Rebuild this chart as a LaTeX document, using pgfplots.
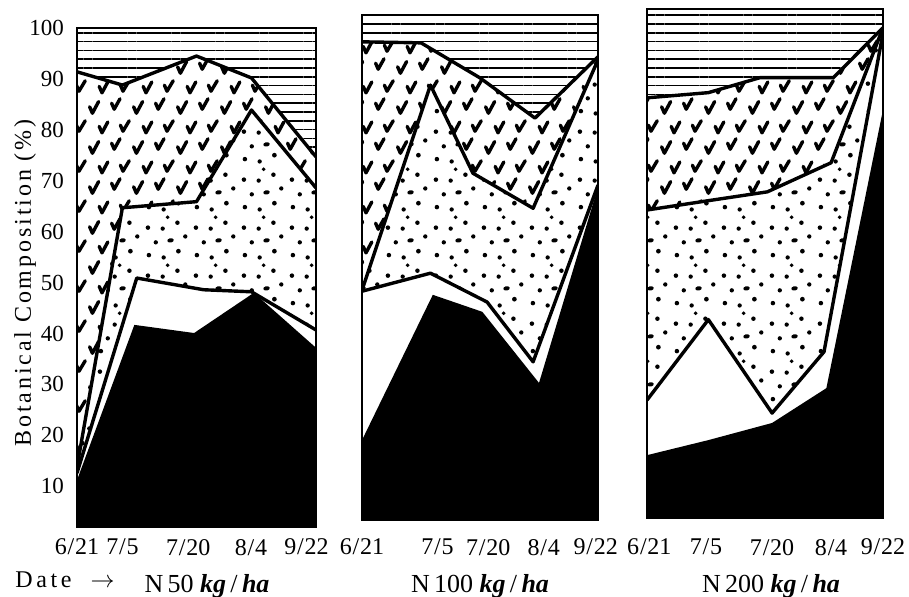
\documentclass[border=0pt]{standalone}
\usepackage{fontspec}
\setmainfont{Liberation Serif}
\usepackage{pgfplots}
\pgfplotsset{compat=1.18}
\usetikzlibrary{patterns,patterns.meta}

% check-mark ("v") pattern
\pgfdeclarepatternformonly{vchecks}{\pgfqpoint{-1pt}{-1pt}}{\pgfqpoint{23pt}{21pt}}{\pgfqpoint{22pt}{20pt}}{%
  \pgfsetlinewidth{1.7pt}\pgfsetroundcap\pgfsetroundjoin
  \pgfpathmoveto{\pgfqpoint{0.8pt}{4.6pt}}\pgfpathlineto{\pgfqpoint{2.2pt}{1.4pt}}\pgfpathlineto{\pgfqpoint{5.3pt}{7.2pt}}
  \pgfpathmoveto{\pgfqpoint{11.8pt}{6.4pt}}\pgfpathlineto{\pgfqpoint{13.1pt}{3.4pt}}\pgfpathlineto{\pgfqpoint{16.0pt}{8.6pt}}
  \pgfpathmoveto{\pgfqpoint{5.6pt}{14.8pt}}\pgfpathlineto{\pgfqpoint{7.0pt}{11.6pt}}\pgfpathlineto{\pgfqpoint{9.9pt}{17.0pt}}
  \pgfpathmoveto{\pgfqpoint{16.2pt}{15.4pt}}\pgfpathlineto{\pgfqpoint{17.5pt}{12.4pt}}\pgfpathlineto{\pgfqpoint{20.6pt}{17.6pt}}
  \pgfusepath{stroke}}

% irregular dots pattern
\pgfdeclarepatternformonly{dotsr}{\pgfqpoint{0pt}{0pt}}{\pgfqpoint{24pt}{24pt}}{\pgfqpoint{24pt}{24pt}}{%
  \pgfpathcircle{\pgfqpoint{2.5pt}{3pt}}{1.15pt}
  \pgfpathcircle{\pgfqpoint{10pt}{1.8pt}}{1.1pt}
  \pgfpathcircle{\pgfqpoint{17.5pt}{5pt}}{1.2pt}
  \pgfpathcircle{\pgfqpoint{6pt}{9.5pt}}{1.1pt}
  \pgfpathellipse{\pgfqpoint{13.5pt}{10.5pt}}{\pgfqpoint{1.6pt}{0.4pt}}{\pgfqpoint{-0.4pt}{1.05pt}}
  \pgfpathcircle{\pgfqpoint{21pt}{12.5pt}}{1.1pt}
  \pgfpathcircle{\pgfqpoint{2pt}{17pt}}{1.15pt}
  \pgfpathcircle{\pgfqpoint{9.5pt}{16.5pt}}{1.1pt}
  \pgfpathcircle{\pgfqpoint{17pt}{19.5pt}}{1.15pt}
  \pgfpathcircle{\pgfqpoint{12pt}{22.3pt}}{1.0pt}
  \pgfusepath{fill}}

\newcommand{\dsl}{\kern0.4pt/\kern0.4pt}

\pgfplotsset{
  base/.style={
    scale only axis, xmin=0, xmax=1, ymin=2, ymax=100,
    anchor=south west, axis on top,
    axis line style={line width=1pt},
    major tick length=0pt,
    ytick=\empty,
    xticklabels={6\dsl 21,7\dsl 5,7\dsl 20,8\dsl 4,9\dsl 22},
    xticklabel style={font=\fontsize{12}{14}\selectfont},
    /pgf/number format/assume math mode=true,
  },
  hl/.style={draw=none, fill=white, postaction={pattern={Lines[angle=0,distance=4.4pt,line width=0.8pt]}}},
  ck/.style={draw=none, fill=white, postaction={pattern=vchecks}},
  dt/.style={draw=none, fill=white, postaction={pattern=dotsr}},
  wh/.style={draw=none, fill=white},
  bk/.style={draw=none, fill=black},
  bd/.style={line width=1.7pt, black, line join=round},
}

\begin{document}
\begin{tikzpicture}
\useasboundingbox (0,0) rectangle (454.5pt,-298pt);

% ---------- N 50 ----------
\begin{axis}[base, at={(38.5pt,-263.5pt)}, width=119.5pt, height=249.5pt,
  ytick={10,20,...,100},
  yticklabel style={font=\fontsize{11.5}{13}\selectfont, xshift=-3pt},
  xtick={0,0.19,0.465,0.728,0.96},
  xticklabel style={yshift=-2.5pt}]
\addplot[hl] coordinates {(0,100) (1,100)} \closedcycle;
\addplot[ck] coordinates {(0,91.4) (0.19,88.8) (0.50,94.5) (0.73,90.2) (1,74.7)} \closedcycle;
\addplot[dt] coordinates {(0,13.8) (0.19,64.7) (0.50,65.9) (0.73,83.9) (1,68.6)} \closedcycle;
\addplot[wh] coordinates {(0,12.6) (0.25,50.9) (0.53,48.6) (0.73,48.2) (1,40.7)} \closedcycle;
\addplot[bk] coordinates {(0,11.2) (0.24,41.7) (0.49,40.1) (0.74,48.0) (1,37.2)} \closedcycle;
\addplot[bd] coordinates {(0,91.4) (0.19,88.8) (0.50,94.5) (0.73,90.2) (1,74.7)};
\addplot[bd] coordinates {(0,13.8) (0.19,64.7) (0.50,65.9) (0.73,83.9) (1,68.6)};
\addplot[bd] coordinates {(0,12.6) (0.25,50.9) (0.53,48.6) (0.73,48.2) (1,40.7)};
\end{axis}

% ---------- N 100 ----------
\begin{axis}[base, at={(181pt,-260pt)}, width=118pt, height=252.5pt,
  xtick={0,0.32,0.535,0.77,0.99},
  xticklabel style={yshift=-6pt}]
\addplot[hl] coordinates {(0,100) (1,100)} \closedcycle;
\addplot[ck] coordinates {(0,94.8) (0.25,94.6) (0.50,87.8) (0.733,80.0) (1,91.9)} \closedcycle;
\addplot[dt] coordinates {(0,46.6) (0.29,86.4) (0.47,69.3) (0.725,62.5) (1,91.3)} \closedcycle;
\addplot[wh] coordinates {(0,46.4) (0.29,49.9) (0.53,44.3) (0.725,32.7) (1,67.0)} \closedcycle;
\addplot[bk] coordinates {(0,17.5) (0.30,45.7) (0.51,42.4) (0.75,28.6) (1,66.6)} \closedcycle;
\addplot[bd] coordinates {(0,94.8) (0.25,94.6) (0.50,87.8) (0.733,80.0) (1,91.9)};
\addplot[bd] coordinates {(0,46.6) (0.29,86.4) (0.47,69.3) (0.725,62.5) (1,91.3)};
\addplot[bd] coordinates {(0,46.4) (0.29,49.9) (0.53,44.3) (0.725,32.7) (1,67.0)};
\end{axis}

% ---------- N 200 ----------
\begin{axis}[base, at={(323.5pt,-259pt)}, width=118pt, height=254.5pt,
  xtick={0.01,0.25,0.53,0.78,1},
  xticklabel style={yshift=-7pt}]
\addplot[hl] coordinates {(0,100) (1,100)} \closedcycle;
\addplot[ck] coordinates {(0,82.9) (0.26,83.9) (0.48,86.8) (0.79,86.8) (1,96.4)} \closedcycle;
\addplot[dt] coordinates {(0,61.3) (0.26,63.1) (0.51,64.8) (0.78,70.4) (1,96.4)} \closedcycle;
\addplot[wh] coordinates {(0,24.7) (0.26,40.2) (0.53,22.2) (0.75,34.0) (1,95.4)} \closedcycle;
\addplot[bk] coordinates {(0,14.1) (0.26,17.0) (0.53,20.3) (0.76,27.0) (1,80.6)} \closedcycle;
\addplot[bd] coordinates {(0,82.9) (0.26,83.9) (0.48,86.8) (0.79,86.8) (1,96.4)};
\addplot[bd] coordinates {(0,61.3) (0.26,63.1) (0.51,64.8) (0.78,70.4) (1,96.4)};
\addplot[bd] coordinates {(0,24.7) (0.26,40.2) (0.53,22.2) (0.75,34.0) (1,95.4)};
\end{axis}

% ---------- labels ----------
\node[rotate=90, anchor=center, font=\fontsize{12}{14}\selectfont] at (12.5pt,-141.5pt)
  {\addfontfeature{LetterSpace=12}Botanical Composition (\%)};
\node[anchor=base west, font=\fontsize{12}{14}\selectfont, inner sep=0pt] at (7.5pt,-293.5pt)
  {\addfontfeature{LetterSpace=15}Date\ \ $\rightarrow$};
\node[anchor=base, font=\fontsize{13}{15}\selectfont, inner sep=0pt] at (103.5pt,-296pt)
  {N\,50 \textbf{\textit{kg}}\,/\,\textbf{\textit{ha}}};
\node[anchor=base, font=\fontsize{13}{15}\selectfont, inner sep=0pt] at (240pt,-296pt)
  {N\,100 \textbf{\textit{kg}}\,/\,\textbf{\textit{ha}}};
\node[anchor=base, font=\fontsize{13}{15}\selectfont, inner sep=0pt] at (385.5pt,-296pt)
  {N\,200 \textbf{\textit{kg}}\,/\,\textbf{\textit{ha}}};
\end{tikzpicture}
\end{document}
